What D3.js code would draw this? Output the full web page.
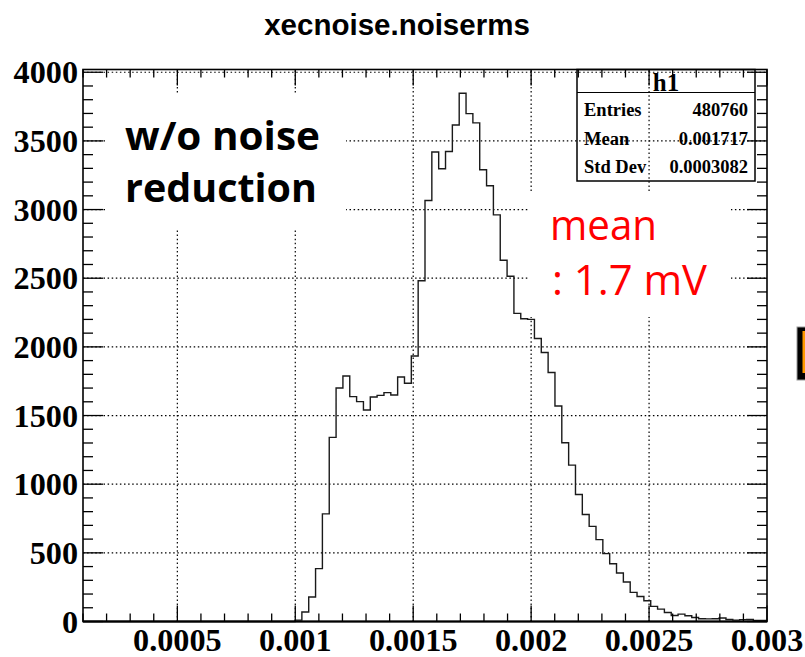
<!DOCTYPE html>
<html><head><meta charset="utf-8">
<script src="https://cdn.jsdelivr.net/npm/d3@7"></script>
<style>html,body{margin:0;padding:0;background:#fff;}svg{display:block;}</style>
</head><body>
<script>
// ---- data ----
const chartTitle = "xecnoise.noiserms";
const xMin = 0.0001, xMax = 0.003, nBins = 100;
const binCounts = [
  0,0,0,0,0,0,0,0,0,0, 0,0,0,0,0,0,0,0,0,0, 0,0,0,0,0,0,0,0,0,0, 0,
  10,69,178,385,784,1341,1701,1788,1638,
  1601,1540,1635,1647,1667,1650,1781,1735,1934,2482,
  3066,3419,3297,3423,3616,3847,3699,3631,3290,3173,
  2961,2631,2514,2244,2205,2200,2061,1959,1813,1569,
  1302,1139,925,779,693,596,494,421,353,288,
  212,182,151,110,90,66,44,54,42,29,
  20,19,20,26,15,10,14,15,8,8
];
const xTickValues = [0.0005,0.001,0.0015,0.002,0.0025,0.003];
const xTickLabels = ["0.0005","0.001","0.0015","0.002","0.0025","0.003"];
const yTickValues = [0,500,1000,1500,2000,2500,3000,3500,4000];
const yTickLabels = ["0","500","1000","1500","2000","2500","3000","3500","4000"];
const statsTitle = "h1";
const statsNames = ["Entries","Mean","Std Dev"];
const statsValues = ["480760","0.001717","0.0003082"];
const noteBlack = ["w/o noise","reduction"];
const noteRed = ["mean",": 1.7 mV"];

// ---- layout ----
const W = 805, H = 657;
const L = 83, R = 767, T = 69.5, B = 621.5;
const yMax = 4020;
const svg = d3.select("body").append("svg").attr("width",W).attr("height",H);
svg.append("rect").attr("width",W).attr("height",H).attr("fill","#fff");

const x = d3.scaleLinear().domain([xMin,xMax]).range([L,R]);
const y = d3.scaleLinear().domain([0,yMax]).range([B,T]);
const bw = (xMax-xMin)/nBins;
const edges = d3.range(nBins+1).map(i => xMin + i*bw);

// stats box (under grid)
const sb = {x0:577, x1:755, y0:T, y1:181, ydiv:92.5};
const g0 = svg.append("g");
g0.append("rect").attr("x",sb.x0).attr("y",sb.y0).attr("width",sb.x1-sb.x0).attr("height",sb.y1-sb.y0)
  .attr("fill","#fff").attr("stroke","#000").attr("stroke-width",1.5);
g0.append("line").attr("x1",sb.x0).attr("x2",sb.x1).attr("y1",sb.ydiv).attr("y2",sb.ydiv).attr("stroke","#000").attr("stroke-width",1.2);
g0.append("text").attr("x",(sb.x0+sb.x1)/2).attr("y",91).attr("text-anchor","middle")
  .attr("font-family","Liberation Serif").attr("font-weight","bold").attr("font-size",25).text(statsTitle);
const rowY = [116,144.5,172.5];
statsNames.forEach((n,i)=>{
  g0.append("text").attr("x",584).attr("y",rowY[i]).attr("font-family","Liberation Serif").attr("font-weight","bold").attr("font-size",18.5).text(n);
  g0.append("text").attr("x",748).attr("y",rowY[i]).attr("text-anchor","end").attr("font-family","Liberation Serif").attr("font-weight","bold").attr("font-size",18.5).text(statsValues[i]);
});

// grid
const grid = svg.append("g").attr("stroke","#000").attr("stroke-width",1.2).attr("stroke-dasharray","1.5,2.6");
xTickValues.filter(v=>v<xMax).forEach(v=>{
  grid.append("line").attr("x1",x(v)).attr("x2",x(v)).attr("y1",B).attr("y2",T);
});
yTickValues.filter(v=>v>0).forEach(v=>{
  grid.append("line").attr("x1",L).attr("x2",R).attr("y1",y(v)).attr("y2",y(v));
});

// histogram
const pts = edges.map((e,i)=>[e, i<nBins ? binCounts[i] : binCounts[nBins-1]]);
const line = d3.line().x(d=>x(d[0])).y(d=>y(d[1])).curve(d3.curveStepAfter);
svg.append("path").attr("d",line([[xMin,0]].concat(pts))).attr("fill","none").attr("stroke","#1a1a1a").attr("stroke-width",1.4);

// ticks
const tk = svg.append("g").attr("stroke","#000").attr("stroke-width",1.3);
const xMinor = d3.range(1,31).map(i=>i*0.0001);
xMinor.forEach(v=>{
  const major = Math.abs(v/0.0005 - Math.round(v/0.0005))<1e-6;
  const len = major?16:8;
  tk.append("line").attr("x1",x(v)).attr("x2",x(v)).attr("y1",B).attr("y2",B-len);
  tk.append("line").attr("x1",x(v)).attr("x2",x(v)).attr("y1",T).attr("y2",T+len);
});
d3.range(0,41).map(i=>i*100).forEach(v=>{
  const major = v%500===0;
  const len = major?20:10;
  tk.append("line").attr("x1",L).attr("x2",L+len).attr("y1",y(v)).attr("y2",y(v));
  tk.append("line").attr("x1",R).attr("x2",R-len).attr("y1",y(v)).attr("y2",y(v));
});

// frame
svg.append("rect").attr("x",L).attr("y",T).attr("width",R-L).attr("height",B-T).attr("fill","none").attr("stroke","#000").attr("stroke-width",1.6);
svg.append("line").attr("x1",L).attr("x2",R).attr("y1",B).attr("y2",B).attr("stroke","#000").attr("stroke-width",2.2);

// tick labels
const sx = 1.04;
xTickValues.forEach((v,i)=>{
  svg.append("text").attr("transform",`translate(${x(v)},651) scale(${sx},1)`).attr("text-anchor","middle")
    .attr("font-family","Liberation Serif").attr("font-weight","bold").attr("font-size",31).text(xTickLabels[i]);
});
yTickValues.forEach((v,i)=>{
  svg.append("text").attr("transform",`translate(78,${y(v)+11}) scale(${sx},1)`).attr("text-anchor","end")
    .attr("font-family","Liberation Serif").attr("font-weight","bold").attr("font-size",31).text(yTickLabels[i]);
});

// title
svg.append("text").attr("x",397).attr("y",35).attr("text-anchor","middle")
  .attr("font-family","Liberation Sans").attr("font-weight","bold").attr("font-size",29.5).text(chartTitle);

// annotation boxes
svg.append("rect").attr("x",105).attr("y",93).attr("width",241).attr("height",135).attr("fill","#fff");
svg.append("rect").attr("x",528).attr("y",193).attr("width",203).attr("height",124).attr("fill","#fff");
noteBlack.forEach((t,i)=>{
  svg.append("text").attr("x",125).attr("y",[150,202][i]).attr("font-family","Open Sans").attr("font-weight","bold")
    .attr("font-size",40).attr("textLength",[195,192][i]).attr("lengthAdjust","spacingAndGlyphs").attr("fill","#000").text(t);
});
noteRed.forEach((t,i)=>{
  svg.append("text").attr("x",[550,552][i]).attr("y",[240,295][i]).attr("font-family","Open Sans")
    .attr("font-size",42).attr("textLength",[107,155][i]).attr("lengthAdjust","spacingAndGlyphs").attr("fill","#ff0000").text(t);
});

// cropped orange marker at right edge
svg.append("rect").attr("x",797).attr("y",327).attr("width",12).attr("height",53).attr("fill","#000").attr("stroke","#999").attr("stroke-width",1);
svg.append("rect").attr("x",802.5).attr("y",331).attr("width",6).attr("height",42).attr("fill","#ff9900");
</script>
</body></html>
